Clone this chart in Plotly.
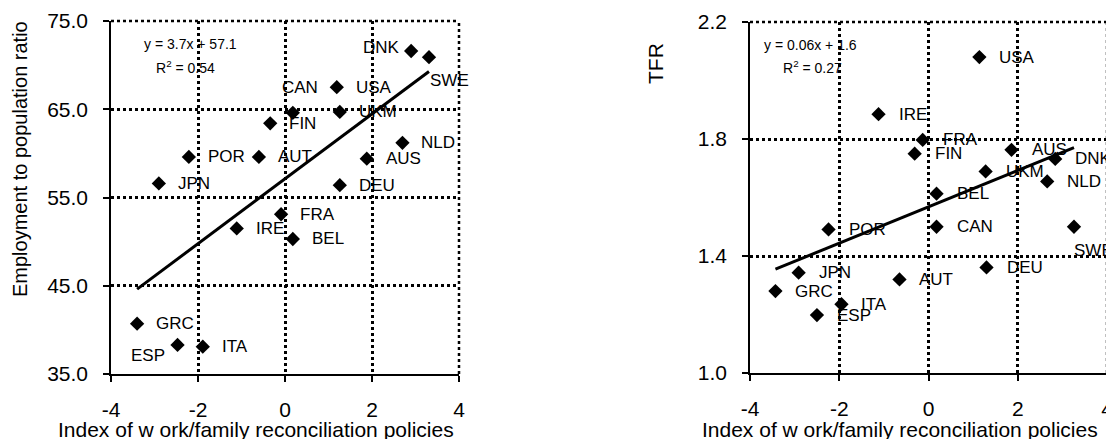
import numpy as np
import plotly.graph_objects as go

# ---------------- data ----------------
countries_emp = ["DNK", "SWE", "USA", "CAN", "UKM", "FIN", "NLD", "POR", "AUT", "AUS",
                 "JPN", "DEU", "FRA", "IRE", "BEL", "GRC", "ESP", "ITA"]
policy_emp = [2.90, 3.31, 1.19, 0.18, 1.26, -0.34, 2.70, -2.21, -0.60, 1.88,
              -2.90, 1.26, -0.09, -1.11, 0.18, -3.40, -2.47, -1.89]
employment = [71.6, 70.9, 67.5, 64.6, 64.7, 63.4, 61.2, 59.6, 59.6, 59.4,
              56.6, 56.4, 53.1, 51.5, 50.3, 40.7, 38.3, 38.1]

countries_tfr = ["USA", "IRE", "FRA", "FIN", "AUS", "DNK", "UKM", "NLD", "BEL", "POR",
                 "CAN", "SWE", "DEU", "JPN", "AUT", "GRC", "ITA", "ESP"]
policy_tfr = [1.14, -1.12, -0.13, -0.31, 1.86, 2.84, 1.28, 2.66, 0.18, -2.24,
              0.18, 3.26, 1.30, -2.91, -0.65, -3.43, -1.95, -2.50]
tfr = [2.08, 1.885, 1.797, 1.75, 1.763, 1.732, 1.689, 1.655, 1.613, 1.491,
       1.50, 1.50, 1.361, 1.343, 1.32, 1.28, 1.235, 1.198]

x_tick_vals = [-4, -2, 0, 2, 4]
x_tick_text = ["-4", "-2", "0", "2", "4"]
y_tick_vals_emp = [35, 45, 55, 65, 75]
y_tick_text_emp = ["35.0", "45.0", "55.0", "65.0", "75.0"]
y_tick_vals_tfr = [1.0, 1.4, 1.8, 2.2]
y_tick_text_tfr = ["1.0", "1.4", "1.8", "2.2"]

eq_emp = ["y = 3.7x + 57.1", "R<sup>2</sup> = 0.54"]
eq_tfr = ["y = 0.06x + 1.6", "R<sup>2</sup> = 0.27"]

x_title = "Index of w ork/family reconciliation policies"
y_title_emp = "Employment to population ratio"
y_title_tfr = "TFR"

# label placement overrides (pixel shifts, anchor)
label_moves_emp = {"DNK": (-9, 4, "right"), "SWE": (-1, -23, "left"),
                   "CAN": (-13, 25, "left"), "ESP": (-11, -11, "right")}
label_moves_tfr = {"SWE": (-2, -24, "left")}

FONT = "Liberation Sans, Arial, sans-serif"
PAGE_OFF = 8                      # default body margin of the html page
W, H = 1114 - PAGE_OFF, 439 - PAGE_OFF


def px(xp):
    return (xp - PAGE_OFF) / W


def py(yp):
    return 1 - (yp - PAGE_OFF) / H


fig = go.Figure()


def add_panel(xs, ys, names, moves, xa, ya, label_dx):
    fig.add_trace(go.Scatter(x=xs, y=ys, mode="markers",
                             marker=dict(symbol="diamond", size=11, color="black"),
                             xaxis=xa, yaxis=ya, showlegend=False, hoverinfo="skip"))
    slope, icpt = np.polyfit(xs, ys, 1)
    xl = np.array([min(xs), max(xs)])
    fig.add_trace(go.Scatter(x=xl, y=slope * xl + icpt, mode="lines",
                             line=dict(color="black", width=3),
                             xaxis=xa, yaxis=ya, showlegend=False, hoverinfo="skip"))
    for x, y, n in zip(xs, ys, names):
        dx, dy, anc = moves.get(n, (label_dx, 0, "left"))
        fig.add_annotation(x=x, y=y, xref=xa, yref=ya, text=n, showarrow=False,
                           xanchor=anc, yanchor="middle", xshift=dx, yshift=dy,
                           font=dict(family=FONT, size=17, color="black"))
    # dotted frame on the top and right edges (continuation of the grid)
    for (x0, y0, x1, y1) in [(0, 1, 1, 1), (1, 0, 1, 1)]:
        fig.add_shape(type="line", xref=f"{xa} domain", yref=f"{ya} domain",
                      x0=x0, y0=y0, x1=x1, y1=y1,
                      line=dict(color="black", width=2.5, dash="3px,3px"))


add_panel(policy_emp, employment, countries_emp, label_moves_emp, "x", "y", 17)
add_panel(policy_tfr, tfr, countries_tfr, label_moves_tfr, "x2", "y2", 18)

axis_common = dict(showline=True, linecolor="black", linewidth=1.5, mirror=False,
                   ticks="outside", ticklen=6, tickcolor="black", tickwidth=1.5,
                   showgrid=True, gridcolor="black", gridwidth=2.5, griddash="3px,3px",
                   zeroline=False, automargin=False, tickmode="array",
                   tickfont=dict(family=FONT, size=21, color="black"))

fig.update_layout(
    width=W, height=H, margin=dict(l=0, r=0, t=0, b=0),
    paper_bgcolor="white", plot_bgcolor="white",
    xaxis=dict(domain=[px(111), px(459)], range=[-4, 4], anchor="y",
               tickvals=x_tick_vals, ticktext=x_tick_text,
               ticklabelstandoff=10, **axis_common),
    yaxis=dict(domain=[py(374), py(21)], range=[35, 75], anchor="x",
               tickvals=y_tick_vals_emp, ticktext=y_tick_text_emp,
               ticklabelstandoff=11, **axis_common),
    xaxis2=dict(domain=[px(750), px(1107)], range=[-4, 4], anchor="y2",
                tickvals=x_tick_vals, ticktext=x_tick_text,
                ticklabelstandoff=10, **axis_common),
    yaxis2=dict(domain=[py(373), py(22)], range=[1.0, 2.2], anchor="x2",
                tickvals=y_tick_vals_tfr, ticktext=y_tick_text_tfr,
                ticklabelstandoff=11, **axis_common),
)

# equations
for txt, (cx, cy) in zip(eq_emp, [(190, 44), (185, 67)]):
    fig.add_annotation(x=px(cx), y=py(cy), xref="paper", yref="paper", text=txt,
                       showarrow=False, xanchor="center", yanchor="middle",
                       font=dict(family=FONT, size=14, color="black"))
for txt, (cx, cy) in zip(eq_tfr, [(810, 45), (812, 67)]):
    fig.add_annotation(x=px(cx), y=py(cy), xref="paper", yref="paper", text=txt,
                       showarrow=False, xanchor="center", yanchor="middle",
                       font=dict(family=FONT, size=14, color="black"))

# axis titles
fig.add_annotation(x=px(256), y=py(429), xref="paper", yref="paper", text=x_title,
                   showarrow=False, xanchor="center", yanchor="middle",
                   font=dict(family=FONT, size=21, color="black"))
fig.add_annotation(x=px(900), y=py(429), xref="paper", yref="paper", text=x_title,
                   showarrow=False, xanchor="center", yanchor="middle",
                   font=dict(family=FONT, size=21, color="black"))
fig.add_annotation(x=px(20), y=py(159), xref="paper", yref="paper", text=y_title_emp,
                   showarrow=False, textangle=-90, xanchor="center", yanchor="middle",
                   font=dict(family=FONT, size=20, color="black"))
fig.add_annotation(x=px(655), y=py(63), xref="paper", yref="paper", text=y_title_tfr,
                   showarrow=False, textangle=-90, xanchor="center", yanchor="middle",
                   font=dict(family=FONT, size=21, color="black"))

fig.write_html("out.html")
